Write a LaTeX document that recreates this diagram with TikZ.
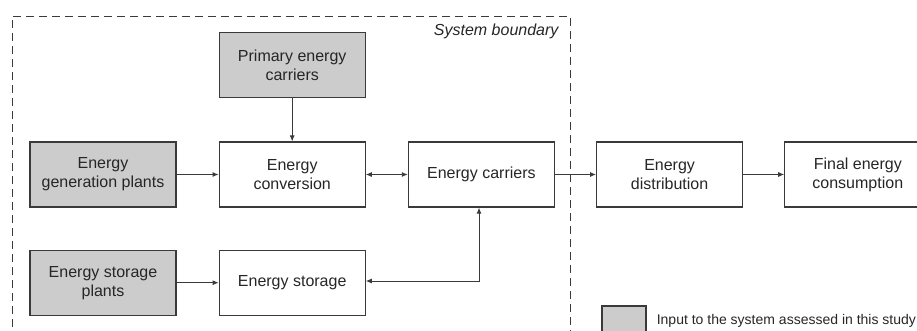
\documentclass[tikz,border=0pt]{standalone}
\usepackage{fontspec}
\setmainfont{Liberation Sans}
\usepackage{tikz}
\usetikzlibrary{positioning, arrows.meta}

\definecolor{boxgray}{HTML}{CCCCCC}
\definecolor{linegray}{HTML}{3A3A3A}

\begin{document}
\begin{tikzpicture}[
    x=1pt, y=1pt,
    font=\fontsize{16}{19}\selectfont,
    box/.style={rectangle, draw=linegray, line width=1.2pt, minimum height=65pt, minimum width=146pt, align=center, text=black!85, inner sep=0pt},
    input/.style={box, fill=boxgray},
    arrow/.style={-{Latex[length=6pt, width=5pt]}, line width=0.9pt, draw=linegray},
    twoway/.style={{Latex[length=6pt, width=5pt]}-{Latex[length=6pt, width=5pt]}, line width=0.9pt, draw=linegray}
]
\clip (0,0) rectangle (917,-330);

% Nodes
\node (genplants) [input] at (103,-174.5) {Energy\\generation plants};
\node (conversion) [box, right=42pt of genplants] {Energy\\conversion};
\node (primary) [input, above=43pt of conversion] {Primary energy\\carriers};
\node (carriers) [box, right=42pt of conversion] {Energy carriers};
\node (distribution) [box, right=41pt of carriers] {Energy\\distribution};
\node (final) [box, right=41pt of distribution] {Final energy\\consumption};
\node (storplants) [input, below=42pt of genplants] {Energy storage\\plants};
\node (storage) [box, below=42pt of conversion] {Energy storage};
\coordinate (corner) at (479,-281);

% System boundary
\draw [linegray, line width=1pt, dash pattern=on 8pt off 5pt] (12,-340) -- (12,-16) -- (570,-16) -- (570,-340);
\node (boundary) [anchor=east, font=\fontsize{16}{19}\selectfont\itshape, text=black!85] at (562,-31) {System boundary};

% Legend
\node (legbox) [rectangle, draw=linegray, line width=1.2pt, fill=boxgray, minimum width=44pt, minimum height=30pt] at (624,-321) {};
\node (legtext) [right=10pt of legbox, font=\fontsize{14}{17}\selectfont, text=black!85, inner sep=0pt] {Input to the system assessed in this study};

% Arrows
\draw [arrow] (primary) -- (conversion);
\draw [arrow] (genplants) -- (conversion);
\draw [twoway] (conversion) -- (carriers);
\draw [arrow] (carriers) -- (distribution);
\draw [arrow] (distribution) -- (final);
\draw [arrow] (storplants) -- (storage);
\draw [twoway] (storage.east |- corner) -- (corner) -- (corner |- carriers.south);

\end{tikzpicture}
\end{document}
